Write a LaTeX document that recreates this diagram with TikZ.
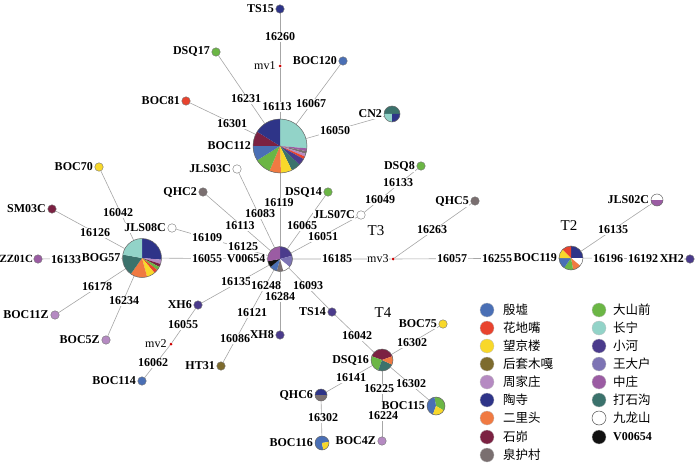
\documentclass[tikz,border=0pt]{standalone}
\usepackage{fontspec}
\setmainfont{Liberation Serif}
\newfontfamily\cjk{Noto Sans CJK SC}
\usetikzlibrary{positioning,backgrounds}
\definecolor{cYX}{HTML}{4A6FB5}
\definecolor{cHD}{HTML}{E8432E}
\definecolor{cWJ}{HTML}{F8D82A}
\definecolor{cHT}{HTML}{7D6B2E}
\definecolor{cZJ}{HTML}{B58AC2}
\definecolor{cTS}{HTML}{2E3488}
\definecolor{cEL}{HTML}{F07A42}
\definecolor{cSM}{HTML}{7B2142}
\definecolor{cQH}{HTML}{7A6F70}
\definecolor{cDQ}{HTML}{6BB645}
\definecolor{cCN}{HTML}{92D3C8}
\definecolor{cXH}{HTML}{4B3B8C}
\definecolor{cWD}{HTML}{7D74B4}
\definecolor{cZZ}{HTML}{9B5CA3}
\definecolor{cDS}{HTML}{3B726C}
\definecolor{cJL}{HTML}{FFFFFF}
\definecolor{cV}{HTML}{111111}
\newcommand{\pslice}[5]{\fill[#5] (#1) -- ++({-(#3)}:#2) arc[start angle={-(#3)}, end angle={-(#4)}, radius=#2] -- cycle;}
\tikzset{
  edge/.style={draw=black!35, line width=0.6pt},
  dot/.style={circle, draw=black!55, line width=0.4pt, inner sep=0pt, minimum size=8.5pt},
  mvdot/.style={circle, fill=red!80!black, inner sep=0pt, minimum size=3pt},
  piec/.style={circle, draw=black!60, line width=0.5pt, inner sep=0pt},
  lab/.style={font=\bfseries\fontsize{12}{12}\selectfont, inner sep=0.6pt, fill=white},
  mvlab/.style={font=\fontsize{12}{12}\selectfont, inner sep=0.6pt, fill=white},
  ttl/.style={font=\fontsize{15}{15}\selectfont, inner sep=0pt},
  legdot/.style={circle, inner sep=0pt, minimum size=14pt, draw=black!25, line width=0.3pt},
  legtxt/.style={font=\cjk\fontsize{12.5}{12.5}\selectfont, anchor=west, inner sep=0pt},
}
\begin{document}
\begin{tikzpicture}[x=1pt,y=-1pt]
\useasboundingbox (0,0) rectangle (700,465);
% pie centres
\coordinate (cBOC112) at (280,146);
\coordinate (cBOG57) at (142,258);
\coordinate (cV00654) at (280,259);
\coordinate (cBOC119) at (571,258);
\coordinate (cCN2) at (392,114);
\coordinate (cDSQ16) at (382,360);
\coordinate (cQHC6) at (321,395);
\coordinate (cBOC115) at (436,406);
\coordinate (cBOC116) at (322,443);
\coordinate (cJLS02C) at (657,200);
% BOC112
\pslice{cBOC112}{27}{90}{-5}{cCN}
\pslice{cBOC112}{27}{-5}{-11}{cZZ}
\pslice{cBOC112}{27}{-11}{-17}{cQH}
\pslice{cBOC112}{27}{-17}{-23}{cZJ}
\pslice{cBOC112}{27}{-23}{-29}{cHD}
\pslice{cBOC112}{27}{-29}{-44}{cXH}
\pslice{cBOC112}{27}{-44}{-64}{cDS}
\pslice{cBOC112}{27}{-64}{-88}{cWJ}
\pslice{cBOC112}{27}{-88}{-113}{cEL}
\pslice{cBOC112}{27}{-113}{-148}{cDQ}
\pslice{cBOC112}{27}{-148}{-180}{cYX}
\pslice{cBOC112}{27}{-180}{-212}{cSM}
\pslice{cBOC112}{27}{-212}{-270}{cTS}
% BOG57
\pslice{cBOG57}{19.5}{90}{-5}{cTS}
\pslice{cBOG57}{19.5}{-5}{-18}{cZJ}
\pslice{cBOG57}{19.5}{-18}{-27}{cSM}
\pslice{cBOG57}{19.5}{-27}{-38}{cDQ}
\pslice{cBOG57}{19.5}{-38}{-50}{cHD}
\pslice{cBOG57}{19.5}{-50}{-75}{cWJ}
\pslice{cBOG57}{19.5}{-75}{-125}{cEL}
\pslice{cBOG57}{19.5}{-125}{-190}{cDS}
\pslice{cBOG57}{19.5}{-190}{-270}{cCN}
% V00654
\pslice{cV00654}{12.5}{90}{15}{cXH}
\pslice{cV00654}{12.5}{15}{-40}{cWD}
\pslice{cV00654}{12.5}{-40}{-75}{cJL}
\pslice{cV00654}{12.5}{-75}{-105}{cQH}
\pslice{cV00654}{12.5}{-105}{-140}{cYX}
\pslice{cV00654}{12.5}{-140}{-170}{cV}
\pslice{cV00654}{12.5}{-170}{-270}{cZZ}
% BOC119
\pslice{cBOC119}{12}{90}{0}{cTS}
\pslice{cBOC119}{12}{0}{-40}{cJL}
\pslice{cBOC119}{12}{-40}{-80}{cEL}
\pslice{cBOC119}{12}{-80}{-125}{cDQ}
\pslice{cBOC119}{12}{-125}{-180}{cYX}
\pslice{cBOC119}{12}{-180}{-225}{cWJ}
\pslice{cBOC119}{12}{-225}{-270}{cHD}
% CN2
\pslice{cCN2}{8}{0}{180}{cDS}
\pslice{cCN2}{8}{180}{270}{cCN}
\pslice{cCN2}{8}{270}{360}{cTS}
% DSQ16
\pslice{cDSQ16}{11}{20}{160}{cSM}
\pslice{cDSQ16}{11}{160}{250}{cDQ}
\pslice{cDSQ16}{11}{250}{335}{cDS}
\pslice{cDSQ16}{11}{335}{380}{cEL}
% QHC6
\pslice{cQHC6}{6}{0}{180}{cTS}
\pslice{cQHC6}{6}{180}{360}{cQH}
% BOC115
\pslice{cBOC115}{9}{-30}{100}{cDQ}
\pslice{cBOC115}{9}{100}{250}{cYX}
\pslice{cBOC115}{9}{250}{330}{cWJ}
% BOC116
\pslice{cBOC116}{7}{10}{280}{cYX}
\pslice{cBOC116}{7}{280}{370}{cWJ}
% JLS02C
\pslice{cJLS02C}{6}{0}{180}{cJL}
\pslice{cJLS02C}{6}{180}{360}{cZZ}
% pie outlines as nodes
\node[piec, minimum size=54pt] (BOC112) at (cBOC112) {};
\node[piec, minimum size=39pt] (BOG57) at (cBOG57) {};
\node[piec, minimum size=25pt] (V00654) at (cV00654) {};
\node[piec, minimum size=24pt] (BOC119) at (cBOC119) {};
\node[piec, minimum size=16pt] (CN2) at (cCN2) {};
\node[piec, minimum size=22pt] (DSQ16) at (cDSQ16) {};
\node[piec, minimum size=12pt] (QHC6) at (cQHC6) {};
\node[piec, minimum size=18pt] (BOC115) at (cBOC115) {};
\node[piec, minimum size=14pt] (BOC116) at (cBOC116) {};
\node[piec, minimum size=12pt] (JLS02C) at (cJLS02C) {};
% single dots
\node[dot, fill=cTS] (TS15) at (280,9) {};
\node[mvdot] (mv1) at (280,66) {};
\node[dot, fill=cYX] (BOC120) at (343,61) {};
\node[dot, fill=cDQ] (DSQ17) at (216,52) {};
\node[dot, fill=cHD] (BOC81) at (186,101) {};
\node[dot, fill=white] (JLS03C) at (237,169) {};
\node[dot, fill=cDQ] (DSQ8) at (421,166) {};
\node[dot, fill=cQH] (QHC2) at (203,192) {};
\node[dot, fill=cDQ] (DSQ14) at (328,192) {};
\node[dot, fill=white] (JLS07C) at (361,215) {};
\node[dot, fill=cWJ] (BOC70) at (99,167) {};
\node[dot, fill=cSM] (SM03C) at (52,209) {};
\node[dot, fill=cZZ] (ZZ01C) at (38,259) {};
\node[dot, fill=white] (JLS08C) at (172,228) {};
\node[mvdot] (mv3) at (393,259) {};
\node[dot, fill=cQH] (QHC5) at (475,201) {};
\node[dot, fill=cXH] (XH2) at (690,259) {};
\node[dot, fill=cXH] (XH6) at (198,305) {};
\node[mvdot] (mv2) at (171,344) {};
\node[dot, fill=cYX] (BOC114) at (142,381) {};
\node[dot, fill=cHT] (HT31) at (221,366) {};
\node[dot, fill=cXH] (XH8) at (280,335) {};
\node[dot, fill=cXH] (TS14) at (332,312) {};
\node[dot, fill=cZJ] (BOC11Z) at (55,315) {};
\node[dot, fill=cZJ] (BOC5Z) at (106,340) {};
\node[dot, fill=cWJ] (BOC75) at (443,324) {};
\node[dot, fill=cZJ] (BOC4Z) at (382,441) {};
% connectors
\begin{pgfonlayer}{background}
\draw[edge] (TS15) -- (mv1) -- (BOC112);
\draw[edge] (BOC120) -- (BOC112);
\draw[edge] (DSQ17) -- (BOC112);
\draw[edge] (BOC81) -- (BOC112);
\draw[edge] (CN2) -- (BOC112);
\draw[edge] (BOC112) -- (V00654);
\draw[edge] (JLS03C) -- (V00654);
\draw[edge] (QHC2) -- (V00654);
\draw[edge] (JLS08C) -- (V00654);
\draw[edge] (BOG57) -- (V00654);
\draw[edge] (DSQ14) -- (V00654);
\draw[edge] (JLS07C) -- (V00654);
\draw[edge] (JLS07C) -- (DSQ8);
\draw[edge] (V00654) -- (mv3) -- (BOC119);
\draw[edge] (mv3) -- (QHC5);
\draw[edge] (BOC119) -- (JLS02C);
\draw[edge] (BOC119) -- (XH2);
\draw[edge] (V00654) -- (XH6);
\draw[edge] (XH6) -- (mv2) -- (BOC114);
\draw[edge] (V00654) -- (HT31);
\draw[edge] (V00654) -- (XH8);
\draw[edge] (V00654) -- (TS14) -- (DSQ16);
\draw[edge] (DSQ16) -- (BOC75);
\draw[edge] (DSQ16) -- (QHC6);
\draw[edge] (DSQ16) -- (BOC4Z);
\draw[edge] (DSQ16) -- (BOC115);
\draw[edge] (QHC6) -- (BOC116);
\draw[edge] (BOG57) -- (BOC70);
\draw[edge] (BOG57) -- (SM03C);
\draw[edge] (BOG57) -- (ZZ01C);
\draw[edge] (BOG57) -- (BOC11Z);
\draw[edge] (BOG57) -- (BOC5Z);
\end{pgfonlayer}
% name labels
\node[lab, left=1pt of TS15] (tTS15) {TS15};
\node[mvlab, left=2pt of mv1] (tmv1) {mv1};
\node[lab, left=1pt of BOC120] (tBOC120) {BOC120};
\node[lab, left=1pt of DSQ17] (tDSQ17) {DSQ17};
\node[lab, left=1pt of BOC81] (tBOC81) {BOC81};
\node[lab, left=1pt of CN2] (tCN2) {CN2};
\node[lab, left=1pt of BOC112] (tBOC112) {BOC112};
\node[lab, left=1pt of JLS03C] (tJLS03C) {JLS03C};
\node[lab, left=1pt of DSQ8] (tDSQ8) {DSQ8};
\node[lab, left=1pt of QHC2] (tQHC2) {QHC2};
\node[lab, left=1pt of DSQ14] (tDSQ14) {DSQ14};
\node[lab, left=1pt of JLS07C] (tJLS07C) {JLS07C};
\node[lab, left=1pt of BOC70] (tBOC70) {BOC70};
\node[lab, left=1pt of SM03C] (tSM03C) {SM03C};
\node[lab, left=0.2pt of ZZ01C, font=\bfseries\fontsize{11}{11}\selectfont, inner sep=0pt] (tZZ01C) {ZZ01C};
\node[lab, left=1pt of BOG57] (tBOG57) {BOG57};
\node[lab, left=1pt of JLS08C] (tJLS08C) {JLS08C};
\node[lab, left=1pt of V00654] (tV00654) {V00654};
\node[mvlab, left=2pt of mv3] (tmv3) {mv3};
\node[lab, left=1pt of QHC5] (tQHC5) {QHC5};
\node[lab, left=1pt of JLS02C] (tJLS02C) {JLS02C};
\node[lab, left=1pt of BOC119] (tBOC119) {BOC119};
\node[lab, left=1pt of XH2] (tXH2) {XH2};
\node[lab, left=1pt of XH6] (tXH6) {XH6};
\node[mvlab, left=2pt of mv2] (tmv2) {mv2};
\node[lab, left=1pt of BOC114] (tBOC114) {BOC114};
\node[lab, left=1pt of HT31] (tHT31) {HT31};
\node[lab, left=1pt of XH8] (tXH8) {XH8};
\node[lab, left=1pt of TS14] (tTS14) {TS14};
\node[lab, left=1pt of BOC11Z] (tBOC11Z) {BOC11Z};
\node[lab, left=1pt of BOC5Z] (tBOC5Z) {BOC5Z};
\node[lab, left=1pt of DSQ16] (tDSQ16) {DSQ16};
\node[lab, left=1pt of BOC75] (tBOC75) {BOC75};
\node[lab, left=1pt of QHC6] (tQHC6) {QHC6};
\node[lab, left=1pt of BOC115] (tBOC115) {BOC115};
\node[lab, left=1pt of BOC116] (tBOC116) {BOC116};
\node[lab, left=1pt of BOC4Z] (tBOC4Z) {BOC4Z};
% mutation labels
\node[lab] (n1) at (280,37) {16260};
\node[lab] (n2) at (277,107) {16113};
\node[lab] (n3) at (311,104) {16067};
\node[lab] (n4) at (246,99) {16231};
\node[lab] (n5) at (232,124) {16301};
\node[lab] (n6) at (335,131) {16050};
\node[lab] (n7) at (279,203) {16119};
\node[lab] (n8) at (260,214) {16083};
\node[lab] (n9) at (240,226) {16113};
\node[lab] (n10) at (207,238) {16109};
\node[lab] (n11) at (243,247) {16125};
\node[lab] (n12) at (207,259) {16055};
\node[lab] (n13) at (302,226) {16065};
\node[lab] (n14) at (323,237) {16051};
\node[lab] (n15) at (380,200) {16049};
\node[lab] (n16) at (398,183) {16133};
\node[lab] (n17) at (337,259) {16185};
\node[lab] (n18) at (432,230) {16263};
\node[lab] (n19) at (452,259) {16057};
\node[lab] (n20) at (497,259) {16255};
\node[lab] (n21) at (613,230) {16135};
\node[lab] (n22) at (608,259) {16196};
\node[lab] (n23) at (643,259) {16192};
\node[lab] (n24) at (236,282) {16135};
\node[lab] (n25) at (266,286) {16248};
\node[lab] (n26) at (308,286) {16093};
\node[lab] (n27) at (280,297) {16284};
\node[lab] (n28) at (252,313) {16121};
\node[lab] (n29) at (235,339) {16086};
\node[lab] (n30) at (183,325) {16055};
\node[lab] (n31) at (153,363) {16062};
\node[lab] (n32) at (357,336) {16042};
\node[lab] (n33) at (412,343) {16302};
\node[lab] (n34) at (351,378) {16141};
\node[lab] (n35) at (379,389) {16225};
\node[lab] (n36) at (411,384) {16302};
\node[lab] (n37) at (383,416) {16224};
\node[lab] (n38) at (323,418) {16302};
\node[lab] (n39) at (118,213) {16042};
\node[lab] (n40) at (95,233) {16126};
\node[lab] (n41) at (66,260) {16133};
\node[lab] (n42) at (97,287) {16178};
\node[lab] (n43) at (124,301) {16234};
% group titles
\node[ttl] (T2) at (569,226) {T2};
\node[ttl] (T3) at (376,231) {T3};
\node[ttl] (T4) at (383,313) {T4};
% legend
\foreach \c/\t/\y [count=\i] in {cYX/殷墟/310, cHD/花地嘴/328, cWJ/望京楼/346, cHT/后套木嘎/364, cZJ/周家庄/382, cTS/陶寺/400, cEL/二里头/418, cSM/石峁/437, cQH/泉护村/455}{
  \node[legdot, fill=\c] (ld\i) at (487,\y) {};
  \node[legtxt] (lt\i) at (503,\y) {\t};
}
\foreach \c/\t/\y [count=\i] in {cDQ/大山前/310, cCN/长宁/328, cXH/小河/346, cWD/王大户/364, cZZ/中庄/382, cDS/打石沟/400}{
  \node[legdot, fill=\c] (rd\i) at (599,\y) {};
  \node[legtxt] (rt\i) at (613,\y) {\t};
}
\node[legdot, fill=white, draw=black!70, line width=0.5pt] (rd7) at (599,418) {};
\node[legtxt] (rt7) at (613,418) {九龙山};
\node[legdot, fill=cV] (rd8) at (599,437) {};
\node[legtxt, font=\bfseries\fontsize{12}{12}\selectfont] (rt8) at (613,437) {V00654};
\end{tikzpicture}
\end{document}
